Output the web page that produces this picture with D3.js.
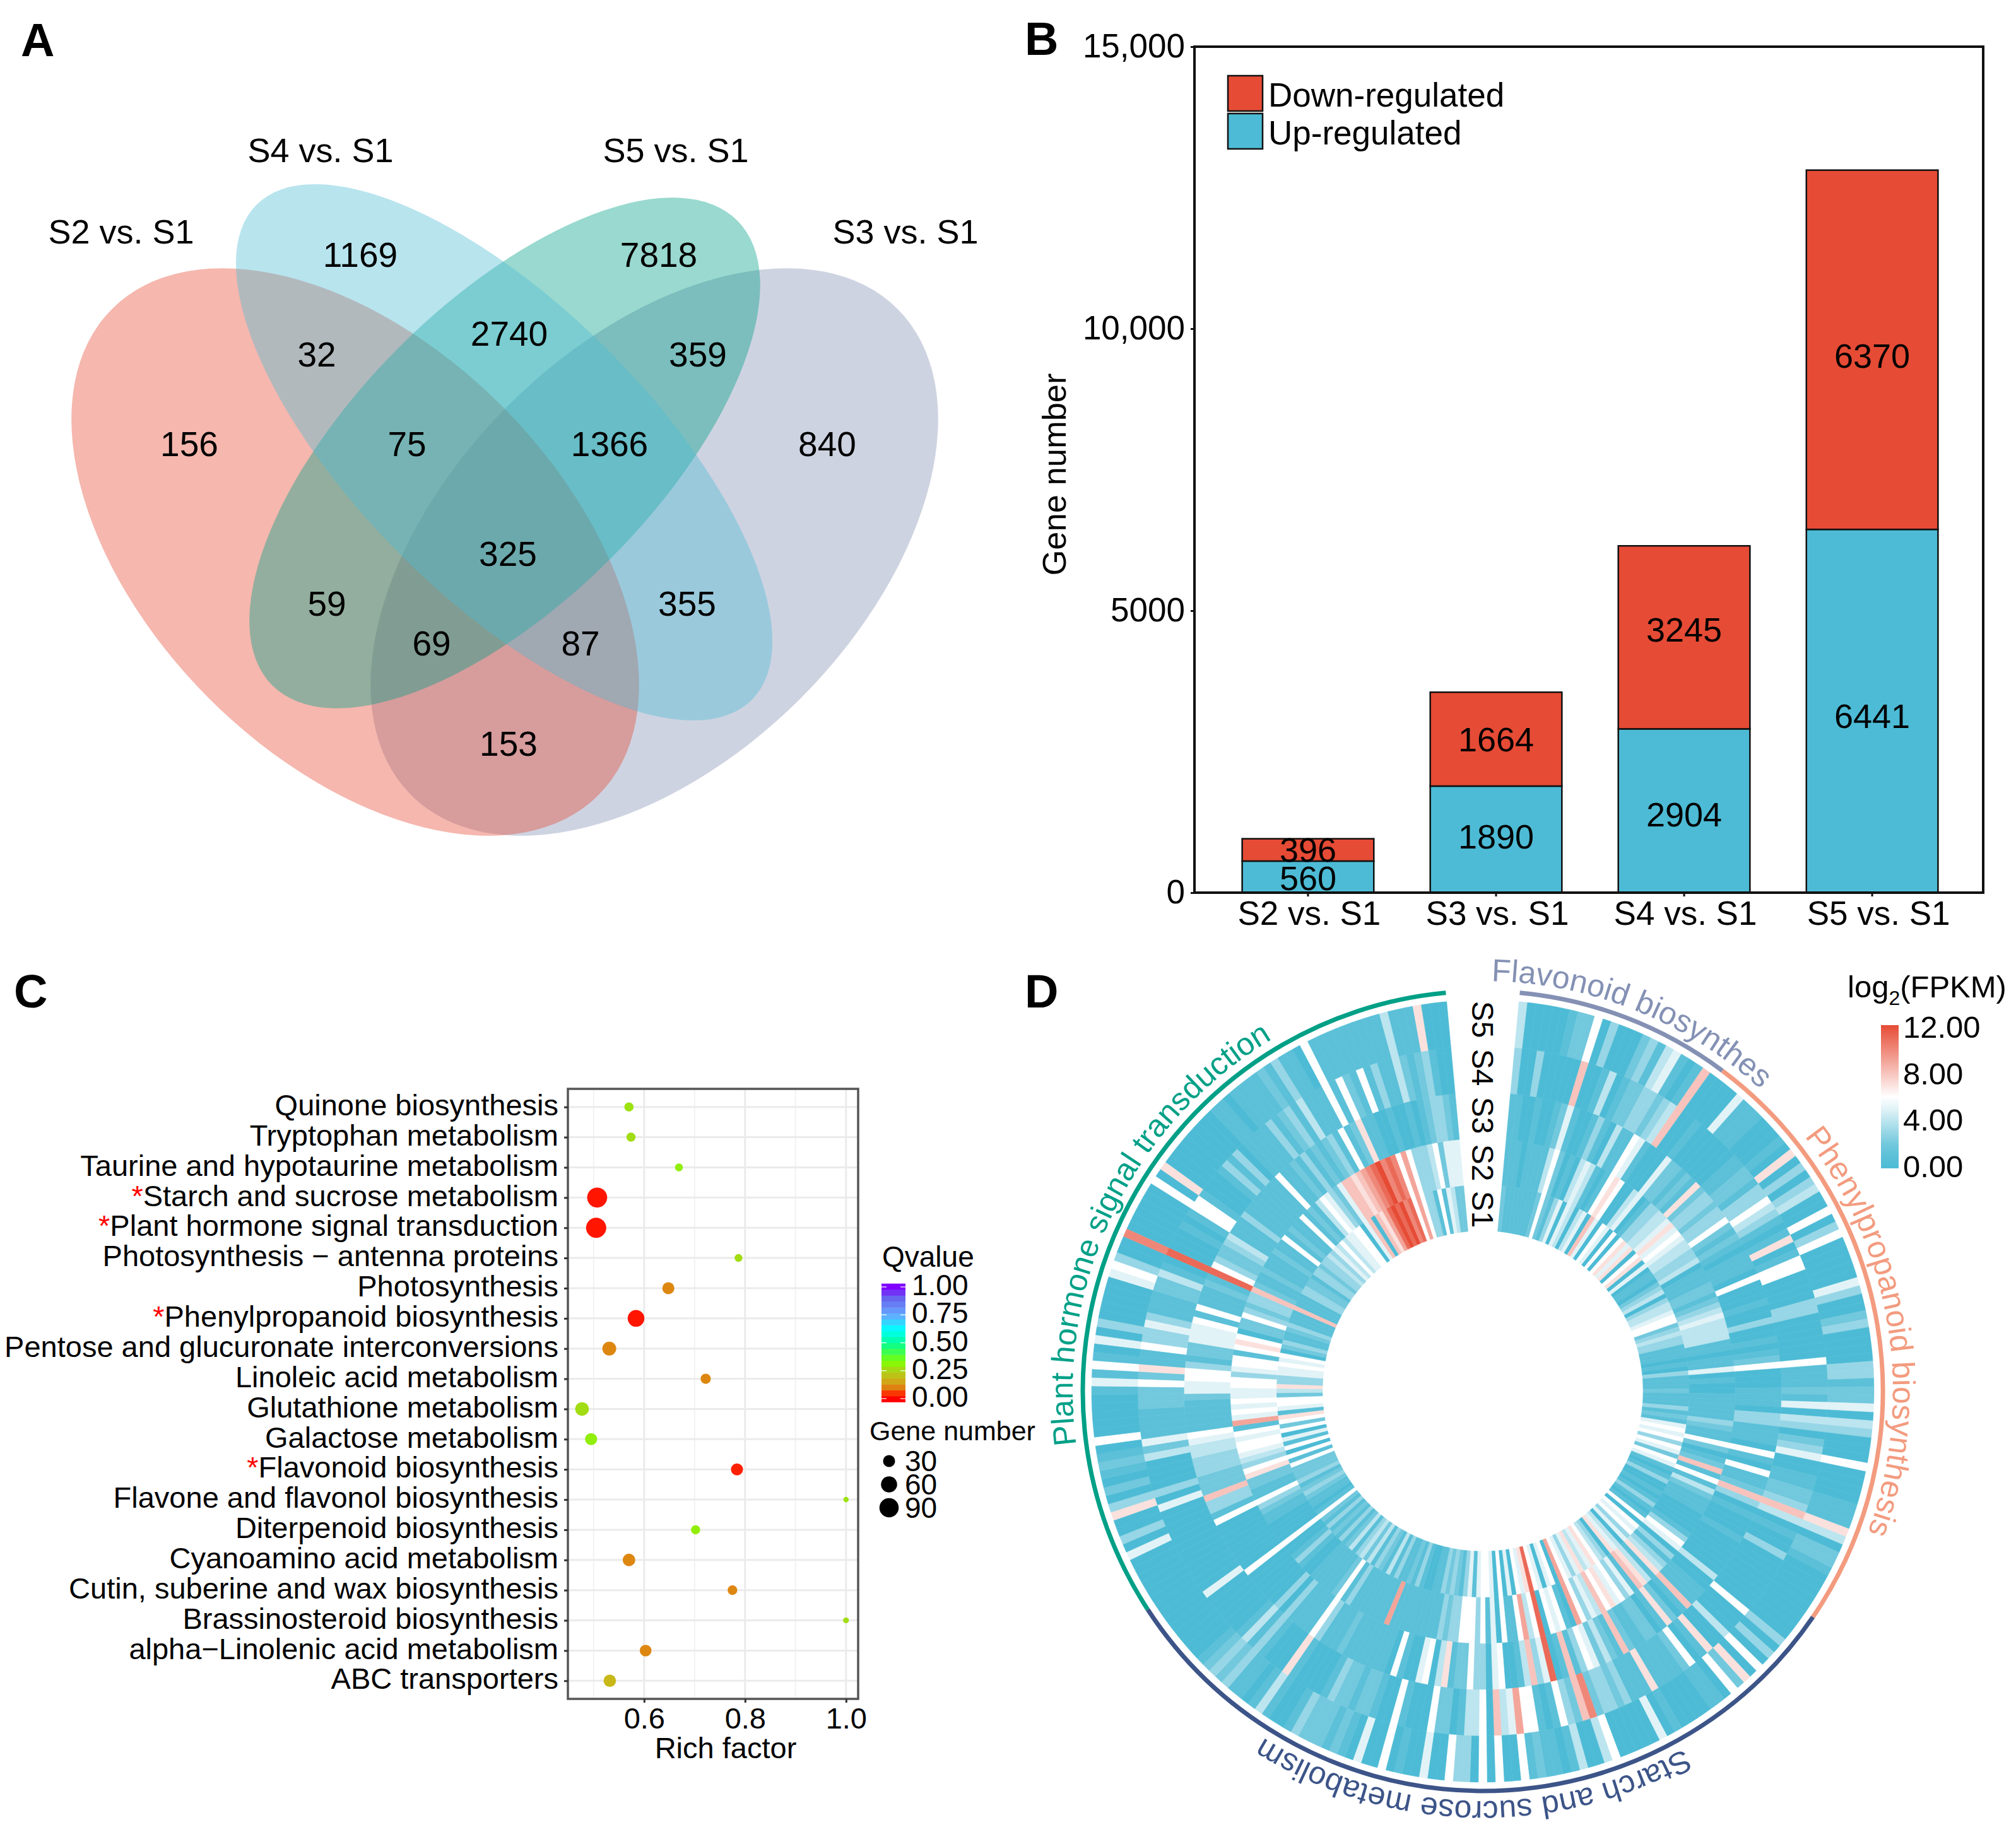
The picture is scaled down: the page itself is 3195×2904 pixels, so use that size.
<!DOCTYPE html>
<html><head><meta charset="utf-8">
<script src="https://cdn.jsdelivr.net/npm/d3@7"></script>
<style>html,body{margin:0;padding:0;background:#fff}svg{display:block}text{font-family:"Liberation Sans",Arial,sans-serif;fill:#000}</style>
</head><body><svg id="chart" width="3195" height="2904" viewBox="0 0 3195 2904"></svg>
<script>
// ---------- DATA ----------
// A: Venn
const vennSets = ["S2 vs. S1","S3 vs. S1","S4 vs. S1","S5 vs. S1"];
const vennCounts = [1169,7818,2740,32,359,156,75,1366,840,325,59,355,69,87,153];
// B: stacked bars
const barCategories = ["S2 vs. S1","S3 vs. S1","S4 vs. S1","S5 vs. S1"];
const upRegulated = [560,1890,2904,6441];
const downRegulated = [396,1664,3245,6370];
const barTicks = [0,5000,10000,15000];
const barTickLabels = ["0","5000","10,000","15,000"];
// C: enrichment bubbles
const pathways = ["Quinone biosynthesis","Tryptophan metabolism","Taurine and hypotaurine metabolism","Starch and sucrose metabolism","Plant hormone signal transduction","Photosynthesis \u2212 antenna proteins","Photosynthesis","Phenylpropanoid biosynthesis","Pentose and glucuronate interconversions","Linoleic acid metabolism","Glutathione metabolism","Galactose metabolism","Flavonoid biosynthesis","Flavone and flavonol biosynthesis","Diterpenoid biosynthesis","Cyanoamino acid metabolism","Cutin, suberine and wax biosynthesis","Brassinosteroid biosynthesis","alpha\u2212Linolenic acid metabolism","ABC transporters"];
const starred = ["Starch and sucrose metabolism","Plant hormone signal transduction","Phenylpropanoid biosynthesis","Flavonoid biosynthesis"];
const richFactor = [0.57,0.574,0.669,0.507,0.505,0.787,0.648,0.584,0.531,0.722,0.477,0.495,0.784,1.0,0.702,0.57,0.775,1.0,0.603,0.532];
const geneNumber = [15,15,10,98,100,10,30,65,42,20,40,30,30,3,15,33,17,4,28,32];
const qValue = [0.28,0.27,0.3,0.02,0.02,0.27,0.11,0.02,0.11,0.11,0.27,0.3,0.03,0.28,0.3,0.11,0.11,0.27,0.11,0.18];
const qTicks = [0,0.25,0.5,0.75,1];
const sizeTicks = [30,60,90];
// D: circular heatmap, log2(FPKM) per gene, hex digit per cell, one string per pathway
const groupNames = ["Flavonoid biosynthes","Phenylpropanoid biosynthesis","Starch and sucrose metabolism","Plant hormone signal transduction"];
const samples = ["S1","S2","S3","S4","S5"];
const fpkmS5 = [
 "4000001226 0300023145 10180",
 "0005111000 1070303400 6036000005 3002300003 3122504300 0600001117 4022100000",
 "0000303060 7260110000 1050000064 0041011216 0060603360 0500106005 0121222310 0141011323 2100000000",
 "0000005030 0730201210 6000001516 1050300000 56300a0000 0060700000 0001101111 2131106111 1111114111 7000"];
const fpkmS4 = [
 "3003000008 0014012233 23480",
 "0100000011 2213364310 1701660000 3300000061 1121504302 3500112238 4010030000",
 "0000600040 0710621111 711132332a 8236101669 5480644102 2600016001 2212231000 0170001314 1000000500",
 "0000000000 5030000425 1111222627 1163353111 22410b0001 0166100013 1301111312 3141116162 1613114212 3100"];
const fpkmS3 = [
 "1100100125 1001310411 65100",
 "0522121723 3233621210 1110600010 0300101260 0011103311 1061061128 3010001000",
 "0004001118 1027102211 2812425631 810b538410 0650336221 7406500160 1111111211 1361111303 0000006000",
 "0000061338 2223334456 1111125566 3122555616 11121b6322 3411131111 1116112131 2123161271 1001001012 3321"];
const fpkmS2 = [
 "1110111146 2010454101 67600",
 "4501334457 5654433401 1122123454 4441101150 1001111132 1162012816 1421110000",
 "1365031347 1478153657 6845369016 560b649611 6051636663 3231111111 1191111111 3162111110 0131006000",
 "0112361122 7634566561 9565655663 5661676022 6323382112 1112116121 1612146532 588789abca ba69633346 2555"];
const fpkmS1 = [
 "2111111126 2135054045 08506",
 "5060675706 7050110234 0344566234 3311101031 1121113121 5656365265 1013001013",
 "1016065635 0457034675 4753569065 056b756050 6056651531 2323110013 1211314123 1424314213 1213126101",
 "1232132226 1606150626 7156624733 5565602311 2311181113 3221332334 3546455660 580879bcbc ab69633161 5422"];
const fpkmTicks = [0,4,8,12];

// ---------- LAYOUT / STYLE ----------
const svg = d3.select("#chart");
const NPG = {red:"#E64B35",cyan:"#4DBBD5",green:"#00A087",navy:"#3C5488",salmon:"#F39B7F",slate:"#8491B4"};
function label(g,x,y,str,size,opts={}){
  const t=g.append("text").attr("x",x).attr("y",y).attr("dy","0.35em").attr("font-size",size)
    .attr("text-anchor",opts.anchor||"middle").text(str);
  if(opts.bold)t.attr("font-weight","bold");
  if(opts.rotate!==undefined)t.attr("transform",`rotate(${opts.rotate} ${x} ${y})`);
  if(opts.fill)t.style("fill",opts.fill);
  return t;
}
// panel letters
[["A",33,63],["B",1624,61],["C",22,1571],["D",1624,1571]].forEach(d=>label(svg,d[1],d[2],d[0],74,{anchor:"start",bold:true}));

// ---------- A ----------
const gA=svg.append("g");
const vennShapes=[
 {set:"S3 vs. S1",c:NPG.slate,cx:1037,cy:875,a:545,b:328,rot:-45},
 {set:"S2 vs. S1",c:NPG.red,cx:563,cy:875,a:545,b:328,rot:45},
 {set:"S5 vs. S1",c:NPG.green,cx:800,cy:718,a:521,b:237,rot:-45},
 {set:"S4 vs. S1",c:NPG.cyan,cx:799,cy:717,a:555,b:231,rot:45}];
gA.selectAll("ellipse").data(vennShapes).join("ellipse")
 .attr("rx",d=>d.a).attr("ry",d=>d.b).attr("fill",d=>d.c).attr("fill-opacity",0.4)
 .attr("transform",d=>`translate(${d.cx},${d.cy}) rotate(${d.rot})`);
const vennSetPos=[[192,367],[1435,367],[508,238],[1071,238]];
vennSets.forEach((s,i)=>label(gA,vennSetPos[i][0],vennSetPos[i][1],s,54));
const vennCountPos=[[571,404],[1044,404],[807,529],[502,562],[1106,562],[300,704],[645,704],[966,704],[1311,704],[805,878],[518,957],[1089,957],[684,1020],[920,1020],[806,1179]];
vennCounts.forEach((v,i)=>label(gA,vennCountPos[i][0],vennCountPos[i][1],v,55));

// ---------- B ----------
const gB=svg.append("g");
const bBox={l:1893,r:3143,t:74,b:1415};
const xB=d3.scaleBand().domain(barCategories).range([bBox.l+2,bBox.r+2]).paddingInner(0.3).paddingOuter(0.247);
const yB=d3.scaleLinear().domain([0,15000]).range([bBox.b,bBox.t]);
const barRows=barCategories.map((c,i)=>({cat:c,up:upRegulated[i],down:downRegulated[i]}));
const stack=d3.stack().keys(["up","down"])(barRows);
const barCol={up:NPG.cyan,down:NPG.red};
const barLabelNudge={up:[2,-4,6,8],down:[0,0,-12,10]};
stack.forEach(s=>{
  const g=gB.append("g");
  g.selectAll("rect").data(s).join("rect")
   .attr("x",d=>xB(d.data.cat)).attr("width",xB.bandwidth())
   .attr("y",d=>yB(d[1])).attr("height",d=>yB(d[0])-yB(d[1]))
   .attr("fill",barCol[s.key]).attr("stroke","#111").attr("stroke-width",2.5);
  g.selectAll("text").data(s).join("text")
   .attr("x",d=>xB(d.data.cat)+xB.bandwidth()/2)
   .attr("y",(d,i)=>yB((d[0]+d[1])/2)+barLabelNudge[s.key][i]).attr("dy","0.35em")
   .attr("text-anchor","middle").attr("font-size",54).text(d=>d.data[s.key]);
});
gB.append("rect").attr("x",bBox.l).attr("y",bBox.t).attr("width",bBox.r-bBox.l).attr("height",bBox.b-bBox.t)
  .attr("fill","none").attr("stroke","#111").attr("stroke-width",4);
const axB=gB.append("g").attr("transform",`translate(0,${bBox.b})`).call(d3.axisBottom(xB).tickSize(6).tickPadding(7));
axB.select(".domain").remove();
axB.selectAll("text").attr("font-size",53).attr("dy","0.71em").attr("x",(d,i)=>i===3?10:2);
axB.selectAll("line").attr("stroke","#111").attr("stroke-width",3);
const ayB=gB.append("g").attr("transform",`translate(${bBox.l},0)`).call(d3.axisLeft(yB).tickValues(barTicks).tickFormat((d,i)=>barTickLabels[i]).tickSize(6).tickPadding(9));
ayB.select(".domain").remove();
ayB.selectAll("text").attr("font-size",53);
ayB.selectAll("line").attr("stroke","#111").attr("stroke-width",3);
label(gB,1671,752,"Gene number",52.5,{rotate:-90});
[["Down-regulated",NPG.red,120,150],["Up-regulated",NPG.cyan,180,210]].forEach(d=>{
  gB.append("rect").attr("x",1946).attr("y",d[2]).attr("width",55).attr("height",56).attr("fill",d[1]).attr("stroke","#111").attr("stroke-width",2.5);
  label(gB,2010,d[3],d[0],53,{anchor:"start"});
});

// ---------- C ----------
const gC=svg.append("g");
const cBox={l:900,r:1360,t:1726,b:2693};
const xC=d3.scaleLinear().domain([0.449,1.024]).range([cBox.l,cBox.r]);
const yC=d3.scalePoint().domain(pathways).range([cBox.t,cBox.b]).padding(0.6);
const rC=d3.scaleSqrt().domain([3,100]).range([4.2,16]);
const qColor=d3.scaleLinear().domain([0,0.04,0.1,0.18,0.27,0.33,0.5,0.62,0.75,0.9,1])
  .range(["#FF0000","#FF2A00","#E08010","#C8B818","#A2DC12","#80FF00","#00FF99","#00FFFF","#66AAFF","#6666EE","#7F00FF"]);
[0.5,0.7,0.9].forEach(v=>gC.append("line").attr("x1",xC(v)).attr("x2",xC(v)).attr("y1",cBox.t).attr("y2",cBox.b).attr("stroke","#F2F2F2").attr("stroke-width",2));
[0.6,0.8,1.0].forEach(v=>gC.append("line").attr("x1",xC(v)).attr("x2",xC(v)).attr("y1",cBox.t).attr("y2",cBox.b).attr("stroke","#EBEBEB").attr("stroke-width",3));
pathways.forEach(p=>gC.append("line").attr("x1",cBox.l).attr("x2",cBox.r).attr("y1",yC(p)).attr("y2",yC(p)).attr("stroke","#EBEBEB").attr("stroke-width",3));
gC.selectAll("ellipse").data(pathways).join("circle")
  .attr("cx",(d,i)=>xC(richFactor[i])).attr("cy",d=>yC(d)).attr("r",(d,i)=>rC(geneNumber[i])).attr("fill",(d,i)=>qColor(qValue[i]));
gC.append("rect").attr("x",cBox.l).attr("y",cBox.t).attr("width",cBox.r-cBox.l).attr("height",cBox.b-cBox.t)
  .attr("fill","none").attr("stroke","#555").attr("stroke-width",3.5);
const ayC=gC.append("g").attr("transform",`translate(${cBox.l},0)`).call(d3.axisLeft(yC).tickSize(6).tickPadding(9));
ayC.select(".domain").remove();
ayC.selectAll("line").attr("stroke","#333").attr("stroke-width",3);
ayC.selectAll("text").attr("font-size",47).attr("dy","0.27em").each(function(d){
  const t=d3.select(this); t.text("");
  if(starred.includes(d)) t.append("tspan").style("fill","#FF0000").text("*");
  t.append("tspan").text(d);
});
const axC=gC.append("g").attr("transform",`translate(0,${cBox.b})`).call(d3.axisBottom(xC).tickValues([0.6,0.8,1.0]).tickFormat(d3.format(".1f")).tickSize(6).tickPadding(8));
axC.select(".domain").remove();
axC.selectAll("line").attr("stroke","#333").attr("stroke-width",3);
axC.selectAll("text").attr("font-size",47);
label(gC,1150,2771,"Rich factor",47);
// Q legend
label(gC,1398,1992,"Qvalue",46,{anchor:"start"});
const yQ=d3.scaleLinear().domain([0,1]).range([2217,2040]);
const qBins=d3.range(20).map(i=>i/20*1.06-0.03);
gC.selectAll(".qb").data(qBins).join("rect").attr("class","qb").attr("x",1397).attr("width",38)
  .attr("y",d=>yQ(d+0.053)).attr("height",d=>yQ(d)-yQ(d+0.053)+0.5).attr("fill",d=>qColor(Math.max(0,Math.min(1,d+0.026))));
qTicks.forEach(v=>{
  [[1397,1405],[1427,1435]].forEach(p=>gC.append("line").attr("x1",p[0]).attr("x2",p[1]).attr("y1",yQ(v)).attr("y2",yQ(v)).attr("stroke","#fff").attr("stroke-width",1.5).attr("stroke-opacity",0.8));
  label(gC,1445,yQ(v)-3,v.toFixed(2),46,{anchor:"start"});
});
label(gC,1378,2268,"Gene number",43,{anchor:"start"});
const sizeY=d3.scalePoint().domain(sizeTicks).range([2316,2390]);
sizeTicks.forEach(v=>{
  gC.append("circle").attr("cx",1409).attr("cy",sizeY(v)).attr("r",rC(v)).attr("fill","#000");
  label(gC,1434,sizeY(v),v,46,{anchor:"start"});
});

// ---------- D ----------
const gD=svg.append("g");
const cx=2350,cy=2205,rInner=254,rOuter=620,rTrack=634,rText=650;
const rad=d=>d*Math.PI/180;
const groupSpan=[[5.3,36.8],[36.8,124.4],[124.4,236.9],[236.9,354.7]];
const groupColor=[NPG.slate,NPG.salmon,NPG.navy,NPG.green];
const labelCentre=[21.9,80.9,181.5,295.8];
const heat=d3.scaleLinear().domain([0,1,2,3,4,5,6,9,12])
  .range([NPG.cyan,"#5BC0D8","#72C8DD","#97D6E6","#BCE5EF","#E2F3F7","#FFFFFF","#F3A59A",NPG.red]);
const ringBand=d3.scaleBand().domain(samples).range([rInner,rOuter]);
const rings={S1:fpkmS1,S2:fpkmS2,S3:fpkmS3,S4:fpkmS4,S5:fpkmS5};
const arc=d3.arc();
const cells=[];
groupSpan.forEach((span,gi)=>{
  const n=rings.S5[gi].replace(/\s/g,"").length;
  const ang=d3.scaleBand().domain(d3.range(n)).range([rad(span[0]),rad(span[1])]);
  samples.forEach(s=>{
    const vals=rings[s][gi].replace(/\s/g,"").split("").map(c=>parseInt(c,16));
    vals.forEach((v,i)=>{ if(i<n) cells.push({s,v,a0:ang(i),a1:ang(i)+ang.bandwidth()}); });
  });
});
const gHeat=gD.append("g").attr("transform",`translate(${cx},${cy})`);
gHeat.selectAll("path").data(cells).join("path")
  .attr("d",d=>arc({innerRadius:ringBand(d.s),outerRadius:ringBand(d.s)+ringBand.bandwidth(),startAngle:d.a0,endAngle:d.a1}))
  .attr("fill",d=>heat(d.v)).attr("stroke",d=>heat(d.v)).attr("stroke-width",0.5);
groupNames.forEach((name,i)=>{
  const p=d3.path(); p.arc(cx,cy,rTrack,rad(groupSpan[i][0]-90),rad(groupSpan[i][1]-90),false);
  gD.append("path").attr("d",p.toString()).attr("fill","none").attr("stroke",groupColor[i]).attr("stroke-width",7);
  const q=d3.path(); q.arc(cx,cy,rText,rad(labelCentre[i]-90-85),rad(labelCentre[i]-90+85),false);
  gD.append("path").attr("id","lab"+i).attr("d",q.toString()).attr("fill","none");
  gD.append("text").attr("font-size",50).style("fill",groupColor[i]).attr("text-anchor","middle")
    .append("textPath").attr("href","#lab"+i).attr("startOffset","50%").text(name);
});
const sampleY=d3.scaleOrdinal().domain(samples).range([1917,1843,1768,1692,1616]);
samples.forEach(s=>label(gD,cx,sampleY(s),s,48,{rotate:90}));
// legend
const lt=gD.append("text").attr("x",2928).attr("y",1564).attr("dy","0.35em").attr("font-size",49);
lt.append("tspan").text("log");
lt.append("tspan").attr("font-size",32).attr("dy",12).text("2");
lt.append("tspan").attr("dy",-12).text("(FPKM)");
const yL=d3.scaleLinear().domain([0,12]).range([1849,1628]);
const grad=gD.append("defs").append("linearGradient").attr("id","fpkmGrad").attr("x1",0).attr("x2",0).attr("y1",1).attr("y2",0);
d3.range(0,13).forEach(v=>grad.append("stop").attr("offset",v/12).attr("stop-color",heat(v)));
gD.append("rect").attr("x",2981).attr("width",28).attr("y",yL(12)-3).attr("height",yL(0)-yL(12)+6).attr("fill","url(#fpkmGrad)");
fpkmTicks.forEach(v=>label(gD,3016,yL(v),v.toFixed(2),49,{anchor:"start"}));
</script></body></html>
